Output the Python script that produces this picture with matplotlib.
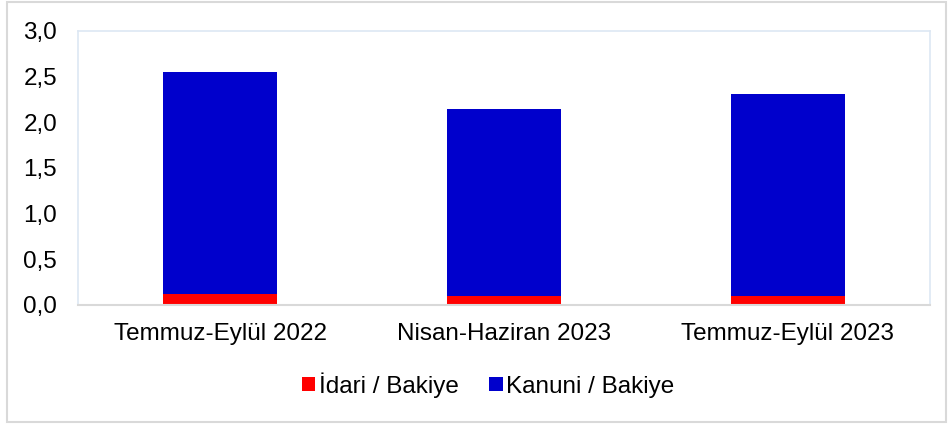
import matplotlib
matplotlib.use('Agg')
import matplotlib.pyplot as plt
from matplotlib.ticker import FuncFormatter
from matplotlib.patches import Rectangle

plt.rcParams['font.family'] = ['Liberation Sans', 'DejaVu Sans']

# Veriler
donemler = ['Temmuz-Eylül 2022', 'Nisan-Haziran 2023', 'Temmuz-Eylül 2023']
idari = [0.12, 0.10, 0.10]
kanuni = [2.43, 2.05, 2.21]

fig = plt.figure(figsize=(9.48, 4.24), dpi=100)
ax = fig.add_axes([0.0823, 0.2807, 0.8987, 0.6462])

x = range(len(donemler))
ax.bar(x, idari, width=0.4, color='#ff0000', label='İdari / Bakiye')
ax.bar(x, kanuni, width=0.4, bottom=idari, color='#0000cc', label='Kanuni / Bakiye')

ax.set_xlim(-0.5, len(donemler) - 0.5)
ax.set_ylim(0, 3.0)
ax.set_yticks([0, 0.5, 1.0, 1.5, 2.0, 2.5, 3.0])
ax.yaxis.set_major_formatter(FuncFormatter(lambda v, p: f'{v:.1f}'.replace('.', ',')))
ax.set_xticks(list(x))
ax.set_xticklabels(donemler)
ax.tick_params(axis='y', length=0, pad=15, labelsize=17.5)
ax.tick_params(axis='x', length=0, pad=13, labelsize=17.5)

for s in ['left', 'right', 'top']:
    ax.spines[s].set_color('#dde7f3')
    ax.spines[s].set_linewidth(1.2)
ax.spines['bottom'].set_color('#d9d9d9')
ax.spines['bottom'].set_linewidth(1.5)

ax.legend(loc='center', bbox_to_anchor=(0.515, 0.092), bbox_transform=fig.transFigure,
          ncol=2, frameon=False, fontsize=17.5, handlelength=0.55, handleheight=0.55,
          handletextpad=0.16, columnspacing=1.25)

# Dış çerçeve
fig.patches.append(Rectangle((0.0075, 0.005), 0.99, 0.99, transform=fig.transFigure,
                             fill=False, edgecolor='#d9d9d9', linewidth=1.5))

fig.savefig('out.png', dpi=100)
